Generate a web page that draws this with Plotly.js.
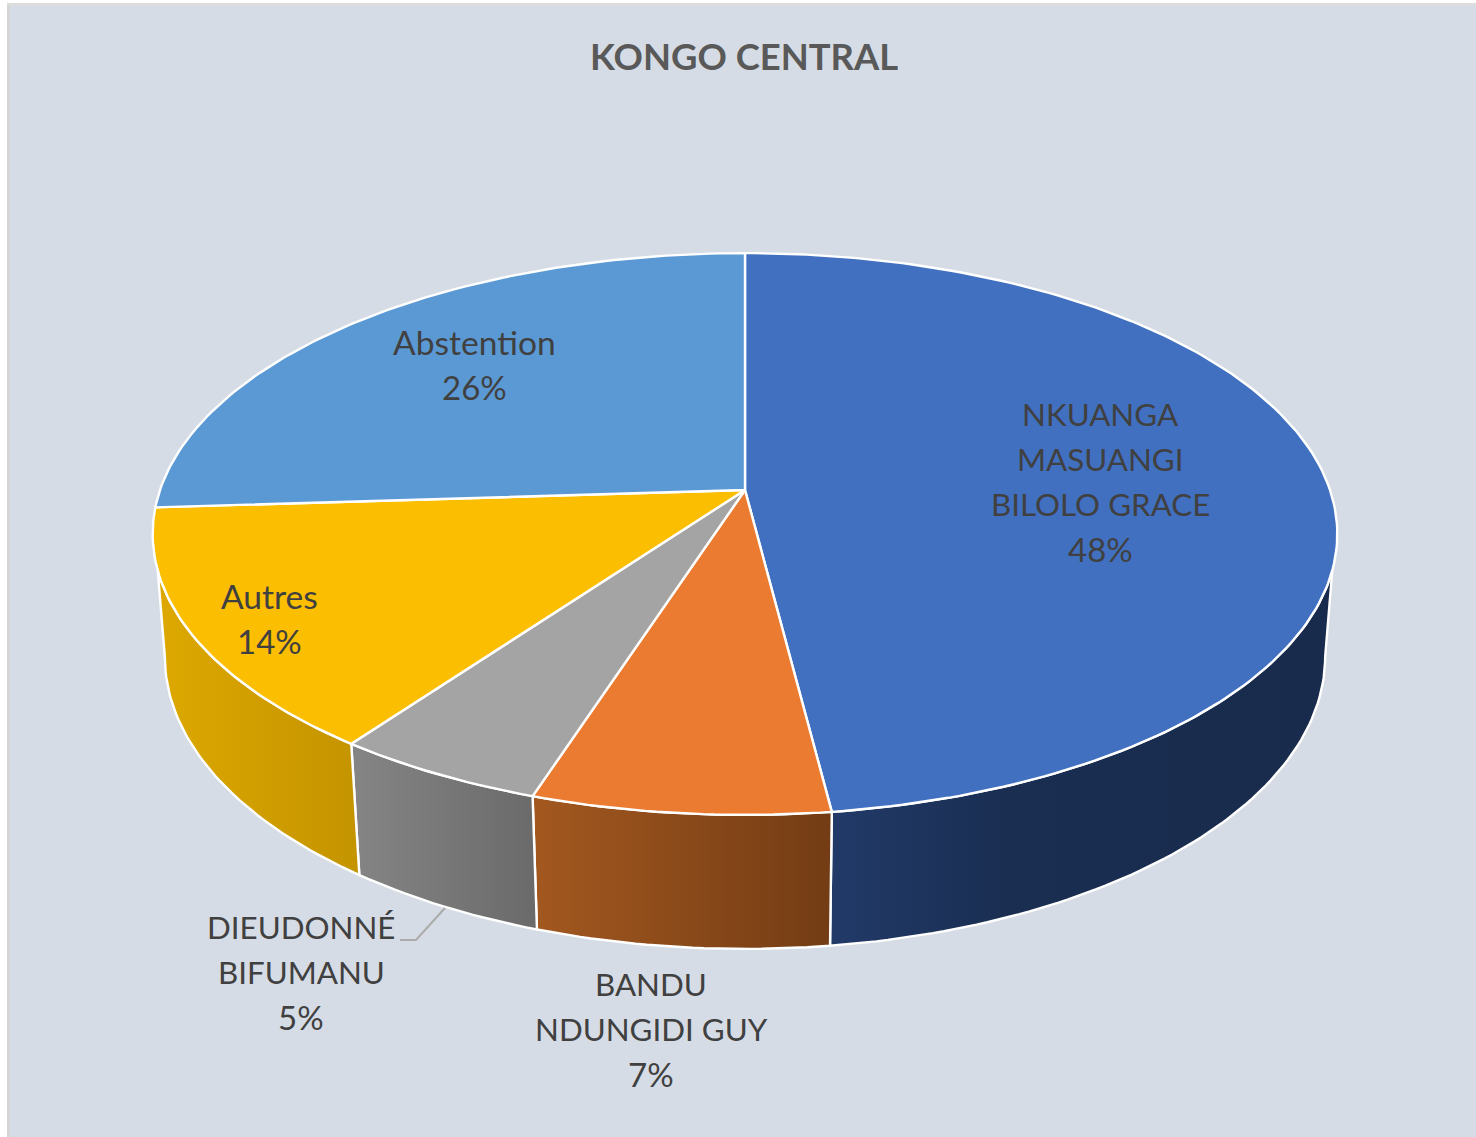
<!DOCTYPE html>
<html><head><meta charset="utf-8">
<script src="https://cdn.plot.ly/plotly-3.0.1.min.js"></script>
<style>html,body{margin:0;padding:0;background:#fff}</style></head>
<body><div id="chart" style="width:1476px;height:1137px"></div>
<script>
const titleText = "KONGO CENTRAL";
const categories = ["NKUANGA<br>MASUANGI<br>BILOLO GRACE", "BANDU<br>NDUNGIDI GUY", "DIEUDONNÉ<br>BIFUMANU", "Autres", "Abstention"];
const values = [48, 7, 5, 14, 26];
const topColors = ["#4170C1", "#EB7B31", "#A4A4A4", "#FBBE00", "#5B99D5"];
const wallScales = [
  [[0,"#213A68"],[0.35,"#1A2E52"],[1,"#182B4C"]],
  [[0,"#A3581F"],[1,"#733C14"]],
  [[0,"#858585"],[1,"#6A6A6A"]],
  [[0,"#DDA800"],[1,"#C49400"]],
  [[0,"#3A6EA5"],[1,"#3A6EA5"]]
];
const labelX = [1100, 651, 301, 269, 474];
const labelFirstY = [413.5, 983.5, 926.5, 595.5, 341.5];
const labelStep = 45;

// view geometry of the tilted disc (pixel-aligned axes)
const CX = 745, TOP_Y = 490, TOP_A = 585, TOP_B = 274, K = 0.1566;
const BOT_Y = 611, BOT_A = 573, BOT_B = 285;
const rad = d => d * Math.PI / 180;
function rim(deg, y0, a, b) {
  const u = Math.sin(rad(deg)), v = Math.cos(rad(deg)), w = 1 + K * v;
  return [CX + a * u / w, y0 - b * v / w];
}
const topRim = d => rim(d, TOP_Y, TOP_A, TOP_B);
const botRim = d => rim(d, BOT_Y, BOT_A, BOT_B);
function arc(fn, a, b) {
  const pts = [], n = Math.max(2, Math.ceil(Math.abs(b - a)));
  for (let i = 0; i <= n; i++) pts.push(fn(a + (b - a) * i / n));
  return pts;
}
const clamp = (d, lo, hi) => Math.min(hi, Math.max(lo, d));
const total = values.reduce((s, v) => s + v, 0);
let acc = 0;
const slices = values.map(v => { const a = acc / total * 360; acc += v; return [a, acc / total * 360]; });

const traces = [];
slices.forEach(([a, b], i) => {
  if (a >= 262) return;
  const t = arc(topRim, clamp(a, 106.3, 253.7), clamp(b, 106.3, 253.7));
  const m = arc(botRim, clamp(b, 99, 261), clamp(a, 99, 261));
  const p = t.concat(m); p.push(t[0]);
  const xs = p.map(q => q[0]);
  traces.push({type:"scatter", mode:"lines", x:xs, y:p.map(q => q[1]), fill:"toself",
    fillgradient:{type:"horizontal", start:Math.min(...xs), stop:Math.max(...xs), colorscale:wallScales[i]},
    line:{color:"#FFFFFF", width:2.4}, hoverinfo:"skip", showlegend:false});
});
slices.forEach(([a, b], i) => {
  const p = [[CX, TOP_Y]].concat(arc(topRim, a, b)); p.push([CX, TOP_Y]);
  traces.push({type:"scatter", mode:"lines", x:p.map(q => q[0]), y:p.map(q => q[1]), fill:"toself",
    fillcolor:topColors[i], line:{color:"#FFFFFF", width:2.4},
    name:categories[i].replace(/<br>/g," "), text:values[i]+"%", hoverinfo:"name+text", showlegend:false});
});
// leader line for the third label
traces.push({type:"scatter", mode:"lines", x:[445,416,400], y:[908,940,940],
  line:{color:"#ABABAB", width:2}, hoverinfo:"skip", showlegend:false});

const annotations = [];
categories.forEach((c, i) => {
  const lines = c.split("<br>").concat(values[i] + "%");
  lines.forEach((t, j) => {
    const isNumber = j === lines.length - 1;
    const isCaps = !isNumber && t === t.toUpperCase();
    annotations.push({xref:"x", yref:"y", x:labelX[i], y:labelFirstY[i] + j * labelStep, text:t,
      showarrow:false, xanchor:"center", yanchor:"middle", align:"center",
      font:{family:"Lato, Carlito, sans-serif", size:isNumber ? 33 : isCaps ? 31.3 : 33.6, color:"#404040"}});
  });
});
annotations.push({xref:"x", yref:"y", x:743.5, y:55.5, text:"<b>"+titleText+"</b>", showarrow:false,
  xanchor:"center", yanchor:"middle", font:{family:"Lato, Carlito, sans-serif", size:36.4, color:"#595959"}});

const layout = {
  width:1476, height:1137, margin:{l:7, r:0, t:3, b:0, pad:0},
  paper_bgcolor:"#FFFFFF", plot_bgcolor:"#D6DCE5", showlegend:false,
  xaxis:{range:[7,1476], visible:false, fixedrange:true},
  yaxis:{range:[1137,3], visible:false, fixedrange:true},
  annotations,
  shapes:[
    {type:"line", xref:"x", yref:"y", x0:8.5, x1:8.5, y0:3, y1:1137, line:{color:"#D4D5D4", width:3}, layer:"below"},
    {type:"line", xref:"x", yref:"y", x0:7, x1:1476, y0:4, y1:4, line:{color:"#DCDDDC", width:3}, layer:"below"}
  ]
};
Plotly.newPlot("chart", traces, layout, {displayModeBar:false, staticPlot:true});
</script></body></html>
